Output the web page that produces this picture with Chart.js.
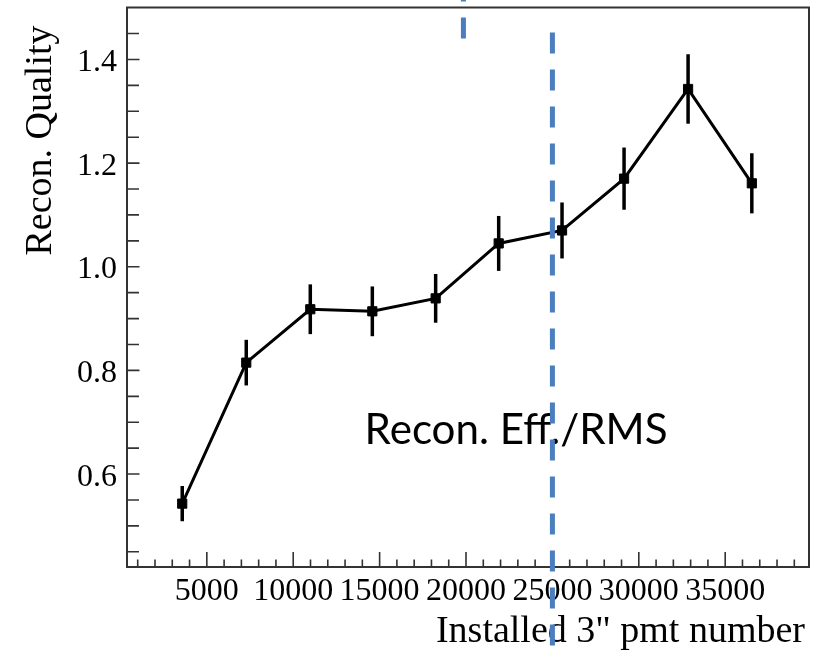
<!DOCTYPE html>
<html>
<head>
<meta charset="utf-8">
<script src="https://cdn.jsdelivr.net/npm/chart.js@4/dist/chart.umd.min.js"></script>
<style>
  html, body { margin: 0; padding: 0; background: #fff; }
  canvas { display: block; }
</style>
</head>
<body>
<canvas id="chart" width="823" height="652"></canvas>
<script>
// Reconstruction quality versus number of installed 3" PMTs
const pmtNumbers    = [3576, 7282, 10988, 14578, 18243, 21891, 25557, 29147, 32852, 36541];
const reconQuality  = [0.543, 0.815, 0.918, 0.914, 0.939, 1.045, 1.070, 1.170, 1.343, 1.161];
const qualityErrors = [0.034, 0.044, 0.048, 0.048, 0.047, 0.053, 0.054, 0.060, 0.067, 0.058];

// Labelled (major) tick values and the minor tick step of each axis
const xMajorTicks = [5000, 10000, 15000, 20000, 25000, 30000, 35000];
const yMajorTicks = [0.6, 0.8, 1.0, 1.2, 1.4];
const xMinorStep = 1000;
const yMinorStep = 0.05;

// Vertical dashed markers: x position and the y value where each dash run ends
const markerX    = [19850, 25000];
const markerEndY = [1.4405, 1.452];
const markerDir  = ['up', 'down'];

// Overlay note, anchored in data coordinates (left edge, baseline)
const noteText = 'Recon. Eff./RMS';
const noteX = 14132;
const noteY = 0.658;

const xTitle = 'Installed 3" pmt number';
const yTitle = 'Recon. Quality';

const SERIF = '"Liberation Serif", "Times New Roman", serif';
const FRAME = '#333333';

const isMajorY = v => yMajorTicks.some(m => Math.abs(m - v) < 1e-6);
const isMajorX = v => xMajorTicks.some(m => Math.abs(m - v) < 1e-6);

// every tick position of an axis between its bounds
function tickValues(scale, step) {
  const out = [];
  const first = Math.ceil(scale.min / step - 1e-9);
  const last = Math.floor(scale.max / step + 1e-9);
  for (let k = first; k <= last; k++) out.push(Math.round(k * step * 1e6) / 1e6);
  return out;
}

// Frame, inward ticks, axis labels, error bars and the overlay note
const decorations = {
  id: 'decorations',
  beforeDatasetsDraw(chart) {
    const { ctx, chartArea: a, scales: { x, y } } = chart;
    ctx.save();

    // note text (underneath the data and the dashed markers)
    ctx.font = '100px Lato';
    const w100 = ctx.measureText(noteText).width;
    ctx.font = (100 * 303 / w100).toFixed(2) + 'px Lato';
    ctx.fillStyle = '#000';
    ctx.textAlign = 'left';
    ctx.textBaseline = 'alphabetic';
    ctx.fillText(noteText, x.getPixelForValue(noteX), y.getPixelForValue(noteY));

    // inward tick marks
    ctx.strokeStyle = FRAME;
    ctx.lineWidth = 1.6;
    ctx.beginPath();
    tickValues(x, xMinorStep).forEach(v => {
      const px = x.getPixelForValue(v);
      const len = isMajorX(v) ? 15 : 7.5;
      ctx.moveTo(px, a.bottom);
      ctx.lineTo(px, a.bottom - len);
    });
    tickValues(y, yMinorStep).forEach(v => {
      const py = y.getPixelForValue(v);
      if (py < a.top + 2) return;
      const len = isMajorY(v) ? 12.5 : 12;
      ctx.moveTo(a.left, py);
      ctx.lineTo(a.left + len, py);
    });
    ctx.stroke();

    // plot frame
    ctx.lineWidth = 2;
    ctx.strokeRect(a.left, a.top, a.right - a.left, a.bottom - a.top);

    // tick labels
    ctx.fillStyle = '#000';
    ctx.font = '32px ' + SERIF;
    ctx.textBaseline = 'alphabetic';
    ctx.textAlign = 'center';
    xMajorTicks.forEach(v => {
      ctx.fillText(String(v), x.getPixelForValue(v), a.bottom + 33);
    });
    ctx.textAlign = 'right';
    yMajorTicks.forEach(v => {
      ctx.fillText(v.toFixed(1), a.left - 10, y.getPixelForValue(v) + 11.5);
    });

    // axis titles
    ctx.font = '38px ' + SERIF;
    ctx.textAlign = 'right';
    ctx.fillText(xTitle, a.right - 4, a.bottom + 75);
    ctx.save();
    ctx.translate(51, a.top + 18);
    ctx.rotate(-Math.PI / 2);
    ctx.fillText(yTitle, 0, 0);
    ctx.restore();

    // vertical error bars
    ctx.strokeStyle = '#000';
    ctx.lineWidth = 3.5;
    ctx.lineCap = 'butt';
    pmtNumbers.forEach((v, i) => {
      const px = x.getPixelForValue(v);
      const top = y.getPixelForValue(reconQuality[i] + qualityErrors[i]);
      const bot = y.getPixelForValue(reconQuality[i] - qualityErrors[i]);
      ctx.beginPath();
      ctx.moveTo(px, top);
      ctx.lineTo(px, bot);
      ctx.stroke();
    });
    ctx.restore();
  },
  afterDraw(chart) {
    const { ctx, scales: { x, y } } = chart;
    ctx.save();
    // dashed blue markers, drawn on top of everything
    ctx.strokeStyle = '#4a7ebf';
    ctx.lineWidth = 5;
    ctx.lineCap = 'butt';
    ctx.setLineDash([21, 16]);
    markerX.forEach((mx, i) => {
      const px = x.getPixelForValue(mx);
      const py = y.getPixelForValue(markerEndY[i]);
      ctx.beginPath();
      ctx.moveTo(px, py);
      ctx.lineTo(px, markerDir[i] === 'up' ? -40 : chart.height + 10);
      ctx.stroke();
    });
    ctx.restore();
  }
};

new Chart(document.getElementById('chart'), {
  type: 'line',
  data: {
    datasets: [{
      data: pmtNumbers.map((v, i) => ({ x: v, y: reconQuality[i] })),
      borderColor: '#000',
      borderWidth: 3,
      tension: 0,
      fill: false,
      pointStyle: 'rect',
      pointRadius: 6.5,
      pointBackgroundColor: '#000',
      pointBorderColor: '#000',
      pointBorderWidth: 1
    }]
  },
  options: {
    responsive: false,
    devicePixelRatio: 1,
    animation: false,
    events: [],
    layout: { padding: { left: 0, right: 14, top: 7, bottom: 0 } },
    plugins: { legend: { display: false }, tooltip: { enabled: false } },
    scales: {
      x: {
        type: 'linear',
        min: 380,
        max: 39850,
        grid: { display: false, drawTicks: false },
        border: { display: false },
        ticks: { display: false },
        afterFit(scale) { scale.height = 85; }
      },
      y: {
        type: 'linear',
        min: 0.4207,
        max: 1.5002,
        grid: { display: false, drawTicks: false },
        border: { display: false },
        ticks: { display: false },
        afterFit(scale) { scale.width = 127; }
      }
    }
  },
  plugins: [decorations]
});
</script>
</body>
</html>
